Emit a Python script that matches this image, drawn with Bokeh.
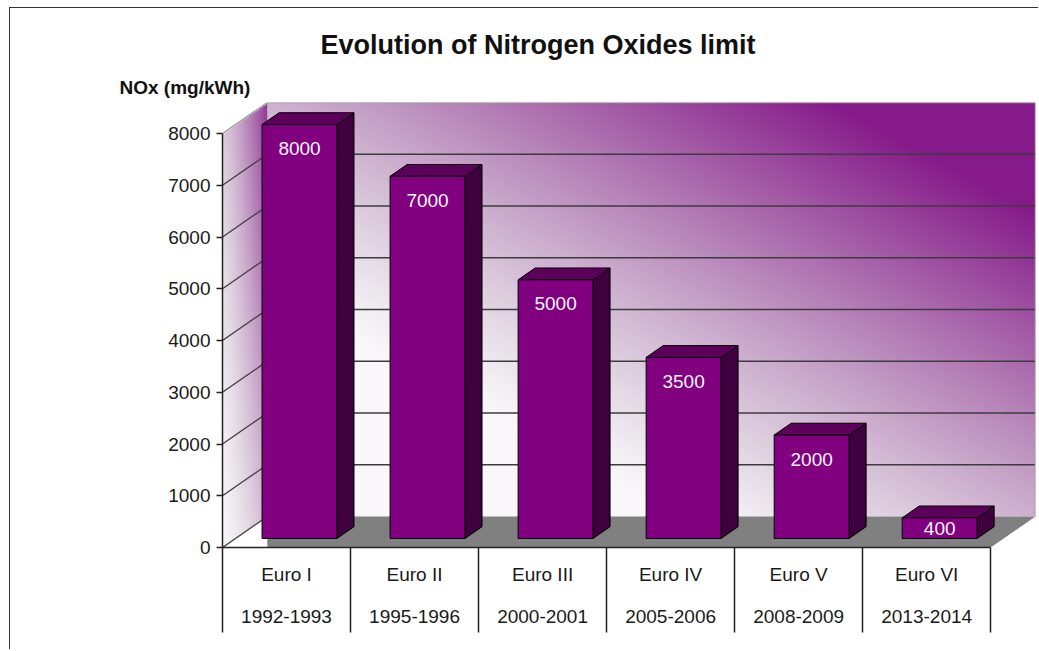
import numpy as np
from bokeh.plotting import figure
from bokeh.models import FixedTicker, LinearAxis, Title, Range1d
from bokeh.embed import file_html
from bokeh.resources import INLINE

# ---------------- data ----------------
categories = ["Euro I", "Euro II", "Euro III", "Euro IV", "Euro V", "Euro VI"]
years = ["1992-1993", "1995-1996", "2000-2001", "2005-2006", "2008-2009", "2013-2014"]
nox_limits = [8000, 7000, 5000, 3500, 2000, 400]
y_ticks = [0, 1000, 2000, 3000, 4000, 5000, 6000, 7000, 8000]

# ---------------- geometry / style ----------------
FONT = "Liberation Sans"
N = len(categories)
DX, DY = 0.35, 600.0          # 3D depth offset (x units, y units)
YTOP = 8000.0
XMAX = N + DX
YMAX = YTOP + DY
F0, F1 = 0.29, 0.67           # bar front/back depth fractions
HW = 0.2925                   # half bar width

W_, H_ = 1029, 642
ML, MT = 212, 94
FW, FH = 813, 445
MR = W_ - ML - FW
MB = H_ - MT - FH
PX_Y = FH / YMAX
PX_X = FW / XMAX

p = figure(width=W_, height=H_, output_backend="svg", toolbar_location=None,
           x_range=Range1d(0, XMAX), y_range=Range1d(0, YMAX),
           min_border_left=ML, min_border_right=MR, min_border_top=MT,
           min_border_bottom=MB, background_fill_color="white",
           border_fill_color="white", outline_line_color=None)
p.styles = {"margin-left": "9px", "margin-top": "7px",
            "border-top": "1px solid #333", "border-left": "1px solid #333"}
p.grid.visible = False

W = np.array([250, 247, 250], dtype=float)
P = np.array([134, 26, 138], dtype=float)


def to_rgba(t, alpha=None):
    t = np.clip(t, 0, 1)
    h, w = t.shape
    img = np.empty((h, w), dtype=np.uint32)
    view = img.view(dtype=np.uint8).reshape((h, w, 4))
    view[..., 0] = (W[0] + t * (P[0] - W[0])).astype(np.uint8)
    view[..., 1] = (W[1] + (t ** 1.2) * (P[1] - W[1])).astype(np.uint8)
    view[..., 2] = (W[2] + t * (P[2] - W[2])).astype(np.uint8)
    view[..., 3] = 255 if alpha is None else alpha
    return img

# back wall gradient (pixel-space linear gradient from the top-right corner)
cols, rows = 768, 414
dxp = np.linspace(cols, 0, cols)[None, :]      # px left of right edge
dyp = np.linspace(rows, 0, rows)[:, None]      # px below top edge (row 0 = bottom)
s = dyp + 0.55 * dxp
t_back = 1.22 - 0.002 * s
p.image_rgba(image=[to_rgba(t_back)], x=DX, y=DY, dw=N, dh=YTOP)

# left wall gradient (parallelogram via alpha)
lc, lr = 45, 445
a = np.linspace(0, 1, lc)[None, :]
yy = np.linspace(0, YMAX, lr)[:, None]
vv = (yy - a * DY) / YTOP
inside = (vv >= 0) & (vv <= 1)
vv = np.clip(vv, 0, 1)
t_left = (a ** 1.2) * (0.38 + 0.52 * vv) + (1 - a ** 1.2) * (0.25 * vv)
alpha = np.where(inside, 255, 0).astype(np.uint8)
p.image_rgba(image=[to_rgba(t_left, alpha)], x=0, y=0, dw=DX, dh=YMAX)

# gridlines
for yv in y_ticks:
    col = "#9a9a9a" if yv == YTOP else "#3c3c3c"
    p.line([0, DX], [yv, yv + DY], line_color=col, line_width=1.3)
    if yv > 0:
        p.line([DX, XMAX], [yv + DY, yv + DY], line_color=col, line_width=1.5)
p.line([XMAX, XMAX], [DY, YMAX], line_color="#a0a0a0", line_width=1.5)

# floor
p.patch([DX, N, N + DX, DX], [0, 0, DY, DY], fill_color="#808080", line_color=None)

# bars
fronts_l, fronts_r, fronts_b, fronts_t = [], [], [], []
side_x, side_y, top_x, top_y = [], [], [], []
ddx, ddy = (F1 - F0) * DX, (F1 - F0) * DY
for i, val in enumerate(nox_limits):
    cx = i + 0.5
    L = cx - HW + F0 * DX
    R = cx + HW + F0 * DX
    B = F0 * DY
    T = val + F0 * DY
    fronts_l.append(L); fronts_r.append(R); fronts_b.append(B); fronts_t.append(T)
    side_x.append([R, R, R + ddx, R + ddx])
    side_y.append([B, T, T + ddy, B + ddy])
    top_x.append([L, R, R + ddx, L + ddx])
    top_y.append([T, T, T + ddy, T + ddy])

p.patches(side_x, side_y, fill_color="#3e003e", line_color="black", line_width=1)
p.patches(top_x, top_y, fill_color="#5c005c", line_color="black", line_width=1)
p.quad(left=fronts_l, right=fronts_r, bottom=fronts_b, top=fronts_t,
       fill_color="#800080", line_color="black", line_width=1)

# value labels
lab_x = [(l + r) / 2 for l, r in zip(fronts_l, fronts_r)]
lab_y = []
for val, t in zip(nox_limits, fronts_t):
    bar_px = val * PX_Y
    off_px = min(24.0, bar_px / 2.0)
    lab_y.append(t - off_px / PX_Y)
p.text(x=lab_x, y=lab_y, text=[str(v_) for v_ in nox_limits],
       text_color="#f4f4f4", text_font_size="19px", text_align="center",
       text_baseline="middle", text_font={"value": FONT})

# y axis
ya = p.yaxis[0]
ya.ticker = FixedTicker(ticks=y_ticks)
ya.bounds = (0, YTOP)
ya.major_tick_out = 6
ya.major_tick_in = 0
ya.minor_tick_line_color = None
ya.major_label_text_font = FONT
ya.major_label_text_font_size = "19px"
ya.major_label_text_color = "#1a1a1a"
ya.major_label_standoff = 6
ya.axis_line_color = "#222222"
ya.axis_line_width = 1.5
ya.major_tick_line_color = "#222222"
ya.major_tick_line_width = 1.5

centers = [i + 0.5 for i in range(N)]
bounds_ticks = [float(i) for i in range(N + 1)]

SEP = 85
xa = p.xaxis[0]
xa.ticker = FixedTicker(ticks=centers, minor_ticks=bounds_ticks)
xa.bounds = (0, N)
xa.major_label_overrides = {c: lab for c, lab in zip(centers, categories)}
xa.major_tick_out = 0
xa.major_tick_in = 0
xa.major_tick_line_color = None
xa.minor_tick_out = SEP
xa.minor_tick_in = 0
xa.minor_tick_line_color = "#222222"
xa.minor_tick_line_width = 1.5
xa.axis_line_color = "#222222"
xa.axis_line_width = 1.5
xa.major_label_standoff = 16 - SEP
xa.major_label_text_font = FONT
xa.major_label_text_font_size = "19px"
xa.major_label_text_color = "#1a1a1a"

xa2 = LinearAxis(ticker=FixedTicker(ticks=centers), bounds=(0, N))
xa2.major_label_overrides = {c: y_ for c, y_ in zip(centers, years)}
xa2.major_tick_out = 0
xa2.major_tick_in = 0
xa2.major_tick_line_color = None
xa2.minor_tick_line_color = None
xa2.axis_line_color = None
xa2.major_label_standoff = 22
xa2.major_label_text_font = FONT
xa2.major_label_text_font_size = "19px"
xa2.major_label_text_color = "#1a1a1a"
p.add_layout(xa2, "below")

# titles
p.add_layout(Title(text="NOx (mg/kWh)", align="left", offset=-103,
                   text_font=FONT, text_font_size="19px", text_font_style="bold",
                   text_color="#111111", standoff=9), "above")
p.title.text = "Evolution of Nitrogen Oxides limit"
p.title.align = "left"
p.title.offset = 98
p.title.text_font = FONT
p.title.text_font_size = "27px"
p.title.text_font_style = "bold"
p.title.text_color = "#111111"
p.title.standoff = 21

open("out.html", "w").write(file_html(p, INLINE))
